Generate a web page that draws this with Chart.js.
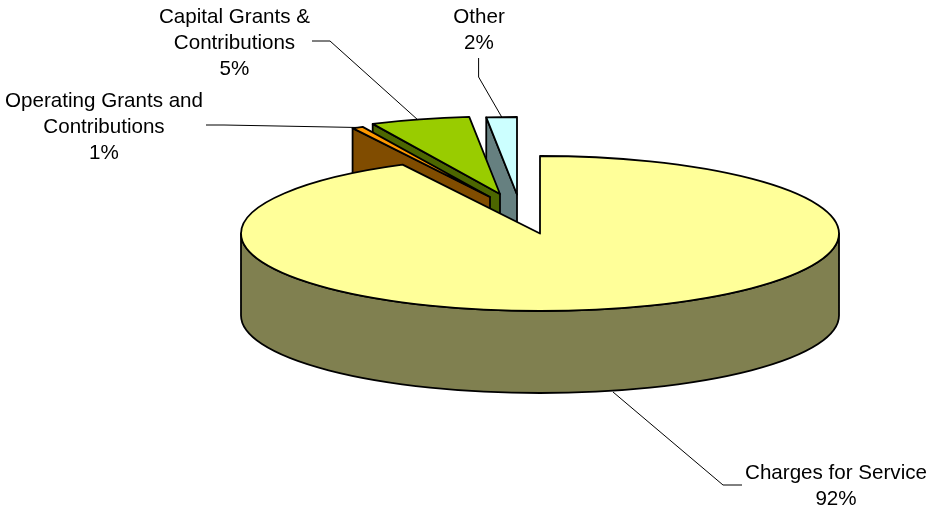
<!DOCTYPE html>
<html>
<head>
<meta charset="utf-8">
<style>
  html, body { margin: 0; padding: 0; background: #fff; }
  canvas { display: block; }
</style>
<script src="https://cdn.jsdelivr.net/npm/chart.js@4/dist/chart.umd.js"></script>
</head>
<body>
<canvas id="pie" width="927" height="508"></canvas>
<script>
// values, printed labels are these rounded
const categories = ["Charges for Service", "Operating Grants and Contributions", "Capital Grants & Contributions", "Other"];
const shares = [92.4, 0.6, 5.36, 1.64];

const topColors = ["#FFFF99", "#FF9900", "#99CC00", "#CCFFFF"];
const wallColors = ["#808050", "#804C00", "#4C6600", "#668080"];

// look of the tilted pie
const radius = 299;
const squash = 77.5 / 299;
const depth = 82;
const sliceShift = [[0, 0], [-50, -36.5], [-40, -39.5], [-23, -39]];
const drawOrder = [3, 2, 1, 0];
const edgeWidth = 1.8;

// label boxes: wrapped lines, centre x, first line y, and the leader line
const labelBoxes = [
    { lines: ["Charges for Service"], x: 836, y: 473, leader: [[613, 392], [723, 485], [742, 485]] },
    { lines: ["Operating Grants and", "Contributions"], x: 104, y: 101, leader: [[206, 125], [224, 125], [358, 127.5]] },
    { lines: ["Capital Grants &", "Contributions"], x: 234.5, y: 17, leader: [[312, 41], [330, 41], [418, 120]] },
    { lines: ["Other"], x: 479, y: 17, leader: [[478.6, 58], [478.6, 77], [501.7, 117]] }
];

class Pie3DController extends Chart.PieController {
    draw() {
        const ctx = this.chart.ctx;
        const arcs = this.getMeta().data;
        drawOrder.forEach((i) => {
            const arc = arcs[i];
            ctx.save();
            ctx.translate(sliceShift[i][0], sliceShift[i][1]);
            drawWalls(ctx, arc, wallColors[i]);

            // the library fills the slice, flattened into an ellipse
            ctx.save();
            ctx.translate(arc.x, arc.y);
            ctx.scale(1, squash);
            ctx.translate(-arc.x, -arc.y);
            arc.draw(ctx);
            ctx.restore();

            // outline afterwards so the flattening does not thin the line
            ctx.beginPath();
            ctx.moveTo(arc.x, arc.y);
            ctx.ellipse(arc.x, arc.y, arc.outerRadius, arc.outerRadius * squash, 0, arc.startAngle, arc.endAngle);
            ctx.closePath();
            ctx.lineWidth = edgeWidth;
            ctx.lineJoin = "round";
            ctx.strokeStyle = "#000";
            ctx.stroke();
            ctx.restore();
        });
    }
}
Pie3DController.id = "pie3d";
Pie3DController.defaults = Chart.PieController.defaults;
Pie3DController.overrides = Chart.PieController.overrides;
Chart.register(Pie3DController);

function drawWalls(ctx, arc, color) {
    const r = arc.outerRadius;
    const ry = r * squash;
    const a0 = arc.startAngle;
    const a1 = arc.endAngle;

    ctx.fillStyle = color;
    ctx.strokeStyle = "#000";
    ctx.lineWidth = edgeWidth;
    ctx.lineJoin = "round";

    const face = (a) => {
        const px = arc.x + r * Math.cos(a);
        const py = arc.y + ry * Math.sin(a);
        ctx.beginPath();
        ctx.moveTo(arc.x, arc.y);
        ctx.lineTo(px, py);
        ctx.lineTo(px, py + depth);
        ctx.lineTo(arc.x, arc.y + depth);
        ctx.closePath();
        ctx.fill();
        ctx.stroke();
    };
    // radial faces only show when they turn towards the viewer
    if (-Math.cos(a0) > 1e-6) face(a0);
    if (Math.cos(a1) > 1e-6) face(a1);

    // rim: only the front half of the ellipse
    const from = Math.max(a0, 0);
    const to = Math.min(a1, Math.PI);
    if (to > from) {
        ctx.beginPath();
        ctx.ellipse(arc.x, arc.y, r, ry, 0, from, to);
        ctx.ellipse(arc.x, arc.y + depth, r, ry, 0, to, from, true);
        ctx.closePath();
        ctx.fill();
        ctx.stroke();
    }
}

const pieLabels = {
    id: "pieLabels",
    afterDraw(chart) {
        const ctx = chart.ctx;
        ctx.save();
        ctx.strokeStyle = "#000";
        ctx.lineWidth = 1;
        labelBoxes.forEach((box) => {
            ctx.beginPath();
            box.leader.forEach((p, j) => (j ? ctx.lineTo(p[0], p[1]) : ctx.moveTo(p[0], p[1])));
            ctx.stroke();
        });
        ctx.fillStyle = "#000";
        ctx.font = '20.6px "Liberation Sans", Arial, sans-serif';
        ctx.textAlign = "center";
        ctx.textBaseline = "middle";
        labelBoxes.forEach((box, i) => {
            const text = box.lines.concat(Math.round(shares[i]) + "%");
            text.forEach((t, j) => ctx.fillText(t, box.x, box.y + j * 26));
        });
        ctx.restore();
    }
};

new Chart(document.getElementById("pie"), {
    type: "pie3d",
    data: {
        labels: categories,
        datasets: [{
            data: shares,
            backgroundColor: topColors,
            borderWidth: 0
        }]
    },
    options: {
        responsive: false,
        animation: false,
        events: [],
        radius: radius,
        layout: { padding: { left: 153, bottom: 41 } },
        plugins: {
            legend: { display: false },
            tooltip: { enabled: false }
        }
    },
    plugins: [pieLabels]
});
</script>
</body>
</html>
